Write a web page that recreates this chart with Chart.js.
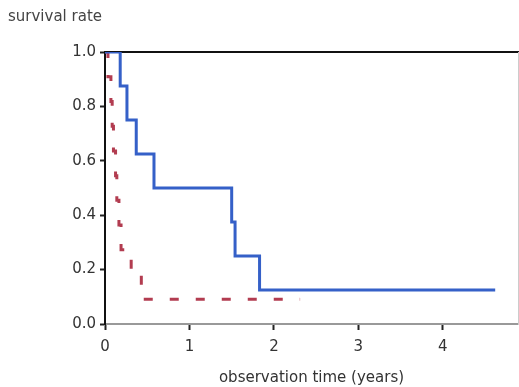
<!DOCTYPE html>
<html>
<head>
<meta charset="utf-8">
<script src="https://cdn.jsdelivr.net/npm/chart.js@4.4.1/dist/chart.umd.min.js"></script>
<style>
  html, body { margin: 0; padding: 0; background: #fff; }
  #wrap { width: 519px; height: 387px; }
</style>
</head>
<body>
<div id="wrap"><canvas id="kmChart" width="519" height="387"></canvas></div>
<script>
// Kaplan-Meier steps
var blueTimes = [0, 0.18, 0.26, 0.37, 0.58, 1.50, 1.54, 1.83, 4.62];
var blueSurv  = [1.0, 0.875, 0.75, 0.625, 0.5, 0.375, 0.25, 0.125, 0.125];

var redTimes = [0, 0.035, 0.07, 0.085, 0.10, 0.125, 0.14, 0.165, 0.19, 0.31, 0.43, 2.31];
var redSurv  = [1.0, 0.909, 0.818, 0.727, 0.636, 0.545, 0.455, 0.364, 0.273, 0.182, 0.091, 0.091];

var xTicks = [0, 1, 2, 3, 4];

function toPoints(xs, ys) {
    return xs.map(function (t, i) { return { x: t, y: ys[i] }; });
}

var fontName = "'DejaVu Sans', Verdana, sans-serif";

var ctx = document.getElementById('kmChart').getContext('2d');
var kmChart = new Chart(ctx, {
    type: 'line',
    data: {
        datasets: [
            {
                label: 'group A',
                data: toPoints(blueTimes, blueSurv),
                stepped: true,
                borderColor: '#3560c8',
                borderWidth: 3,
                pointRadius: 0,
                fill: false
            },
            {
                label: 'group B',
                data: toPoints(redTimes, redSurv),
                stepped: true,
                borderColor: '#b23c50',
                borderWidth: 3,
                borderDash: [9, 17],
                pointRadius: 0,
                fill: false
            }
        ]
    },
    options: {
        responsive: false,
        animation: false,
        layout: { padding: { left: 8, right: 0, top: 0, bottom: 0 } },
        plugins: {
            legend: { display: false },
            tooltip: { enabled: false },
            title: {
                display: true,
                text: 'survival rate',
                align: 'start',
                color: '#444',
                font: { family: fontName, size: 15, weight: 'normal' },
                padding: { top: 8, bottom: 26 }
            }
        },
        scales: {
            x: {
                type: 'linear',
                position: 'bottom',
                min: 0,
                max: 4.89,
                afterBuildTicks: function (scale) {
                    scale.ticks = xTicks.map(function (v) { return { value: v }; });
                },
                afterFit: function (scale) { scale.height = 63; },
                ticks: {
                    color: '#333',
                    font: { family: fontName, size: 15 },
                    padding: 8,
                    callback: function (v) { return v; }
                },
                grid: {
                    drawOnChartArea: false,
                    drawTicks: true,
                    tickLength: 6,
                    tickWidth: 2,
                    tickColor: '#222'
                },
                border: { display: true, color: '#999', width: 2 },
                title: {
                    display: true,
                    text: 'observation time (years)',
                    color: '#333',
                    font: { family: fontName, size: 15 },
                    padding: { top: 4, bottom: 0 }
                }
            },
            xTop: {
                type: 'linear',
                position: 'top',
                min: 0,
                max: 4.89,
                afterFit: function (scale) { scale.height = 0; },
                ticks: { display: false },
                grid: { display: false, drawTicks: false },
                border: { display: true, color: '#111', width: 2 }
            },
            y: {
                type: 'linear',
                position: 'left',
                min: 0,
                max: 1,
                afterFit: function (scale) { scale.width = 97; },
                ticks: {
                    stepSize: 0.2,
                    color: '#333',
                    font: { family: fontName, size: 15 },
                    padding: 4,
                    callback: function (v) { return v.toFixed(1); }
                },
                grid: {
                    drawOnChartArea: false,
                    drawTicks: true,
                    tickLength: 5,
                    tickWidth: 2,
                    tickColor: '#222'
                },
                border: { display: true, color: '#111', width: 2 }
            },
            yRight: {
                type: 'linear',
                position: 'right',
                min: 0,
                max: 1,
                afterFit: function (scale) { scale.width = 1; },
                ticks: { display: false },
                grid: { display: false, drawTicks: false },
                border: { display: true, color: '#ccc', width: 1 }
            }
        }
    }
});
</script>
</body>
</html>
